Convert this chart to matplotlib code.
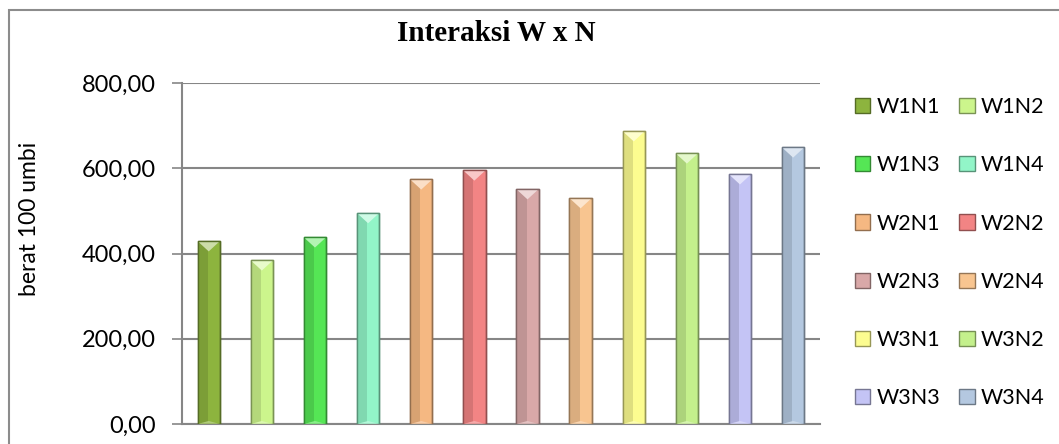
import matplotlib
matplotlib.use("Agg")
import matplotlib.pyplot as plt
from matplotlib.patches import Polygon, Patch, Rectangle
from matplotlib.colors import to_rgb

# Treatment combinations and measured weight of 100 tubers
labels = ["W1N1", "W1N2", "W1N3", "W1N4", "W2N1", "W2N2",
          "W2N3", "W2N4", "W3N1", "W3N2", "W3N3", "W3N4"]
values = [429, 384, 438, 495, 574, 595, 551, 530, 687, 635, 586, 649]
colors = ["#8db43e", "#ccf58c", "#55e655", "#92f5c8", "#f5b882", "#f28484",
          "#d9a8a8", "#f8c590", "#fcfc90", "#c4f08c", "#c4c4f5", "#b4c8e0"]
yticks = [0, 200, 400, 600, 800]
title = "Interaksi W x N"
ylabel = "berat 100 umbi"


def shade(c, f):
    r, g, b = to_rgb(c)
    if f < 1:
        return (r * f, g * f, b * f)
    f = f - 1
    return (r + (1 - r) * f, g + (1 - g) * f, b + (1 - b) * f)


fig = plt.figure(figsize=(10.59, 4.44), dpi=100)
fig.patches.append(Rectangle((0.0085, -0.05), 1.2, 1.028, transform=fig.transFigure,
                             fill=False, edgecolor="#8c8c8c", linewidth=1.5))

ax = fig.add_axes([0.172, 0.045, 0.602, 0.768])
ax.set_ylim(0, 800)
ax.set_xlim(-0.5, len(values) - 0.5)

w = 0.42
tri = 24  # depth of the bevel tip in data units
for i, (v, c) in enumerate(zip(values, colors)):
    ax.bar(i, v, w, color=c, edgecolor=shade(c, 0.6), linewidth=1.0, zorder=3)
    ax.bar(i - w * 0.27, v, w * 0.46, color=shade(c, 0.88), linewidth=0, zorder=3)
    ax.add_patch(Polygon([(i - w / 2, v), (i + w / 2, v), (i, v - tri)],
                         closed=True, facecolor=shade(c, 1.55), edgecolor="none", zorder=4))
    ax.add_patch(Polygon([(i - w / 2, 0), (i + w / 2, 0), (i, tri * 0.3)],
                         closed=True, facecolor=shade(c, 1.3), edgecolor="none", zorder=4))
    ax.plot([i - w / 2, i + w / 2, i + w / 2, i - w / 2, i - w / 2], [0, 0, v, v, 0],
            color=shade(c, 0.6), linewidth=1.0, zorder=5)

ax.set_yticks(yticks)
ax.set_yticklabels([f"{t:,.2f}".replace(".", ";").replace(",", ".").replace(";", ",") for t in yticks],
                   fontsize=17, family="Lato")
ax.set_xticks([])
ax.yaxis.grid(True, color="#868686", linewidth=1.5, zorder=0)
ax.tick_params(axis="y", length=7, width=1.2, color="#868686", pad=12)
for s in ["top", "right"]:
    ax.spines[s].set_visible(False)
for s in ["left", "bottom"]:
    ax.spines[s].set_color("#868686")
    ax.spines[s].set_linewidth(1.5)

ax.set_ylabel(ylabel, fontsize=16.5, family="Lato")
ax.yaxis.set_label_coords(-0.223, 0.6)

fig.text(0.469, 0.925, title, ha="center", va="center", fontsize=21,
         fontweight="bold", family="Liberation Serif")

handles = [Patch(facecolor=c, edgecolor=shade(c, 0.6)) for c in colors]
order = [0, 2, 4, 6, 8, 10, 1, 3, 5, 7, 9, 11]
fig.legend([handles[k] for k in order], [labels[k] for k in order], ncol=2,
           loc="upper left", bbox_to_anchor=(0.797, 0.805), frameon=False,
           prop={"family": "Lato", "size": 15.5}, handlelength=0.7, handleheight=0.7,
           handletextpad=0.3, columnspacing=0.9, labelspacing=1.77, borderpad=0)

fig.savefig("out.png", dpi=100)
